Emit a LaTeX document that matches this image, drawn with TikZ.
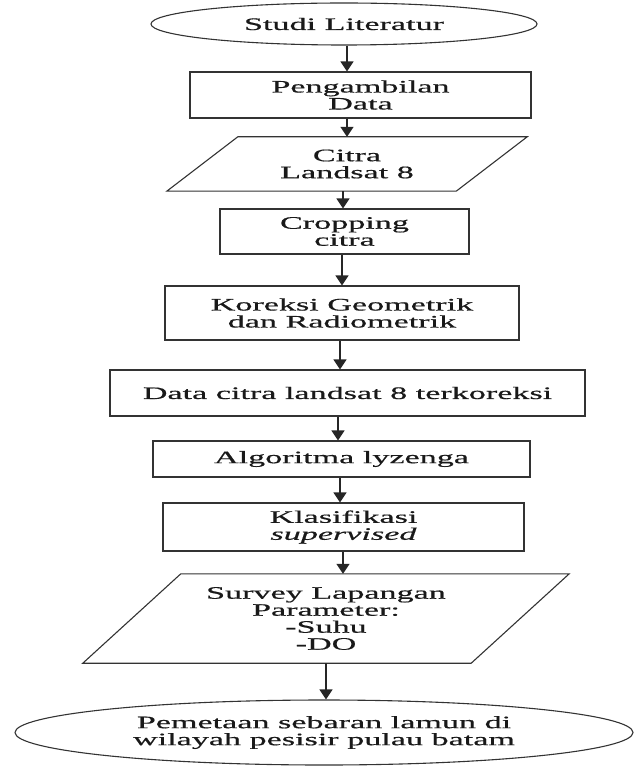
\documentclass[tikz,border=0pt]{standalone}
\usepackage{fontspec}
\setmainfont{Liberation Serif}[FakeStretch=1.95,FakeBold=0.6]
\usetikzlibrary{shapes.geometric,arrows.meta,calc}
\newcommand\flowfont{\fontsize{17.5}{17}\selectfont}
\begin{document}
\begin{tikzpicture}[x=1pt,y=-1pt,
  outl/.style={draw=black!80, line width=1.1pt},
  box/.style={outl, rectangle, inner sep=0pt, align=center, font=\flowfont, text=black!90},
  oval/.style={outl, ellipse, inner sep=0pt, align=center, font=\flowfont, text=black!90},
  para/.style={rectangle, inner sep=0pt, align=center, font=\flowfont, text=black!90},
  arr/.style={draw=black!85, line width=1.2pt, -{Triangle[width=13pt,length=10pt]}}]
\useasboundingbox (0,0) rectangle (640,767);

\node[oval, minimum width=386pt, minimum height=42pt] (e1) at (344,24) {Studi Literatur};
\node[box, minimum width=341pt, minimum height=46pt] (b2) at (360.5,95) {Pengambilan\\Data};
\node[para, minimum width=289pt, minimum height=54pt] (p3) at (347,164) {Citra\\Landsat 8};
\draw[outl] ([xshift=35.5pt]p3.north west) -- ([xshift=35.5pt]p3.north east)
  -- ([xshift=-35.5pt]p3.south east) -- ([xshift=-35.5pt]p3.south west) -- cycle;
\node[box, minimum width=249pt, minimum height=45pt] (b4) at (344.5,231.5) {Cropping\\citra};
\node[box, minimum width=354pt, minimum height=54pt] (b5) at (342,313) {Koreksi Geometrik\\dan Radiometrik};
\node[box, minimum width=475pt, minimum height=46pt] (b6) at (347.5,393) {Data citra landsat 8 terkoreksi};
\node[box, minimum width=377pt, minimum height=36pt] (b7) at (341.5,459) {Algoritma lyzenga};
\node[box, minimum width=361pt, minimum height=48pt] (b8) at (343.5,527) {Klasifikasi\\\textit{supervised}};
\node[para, minimum width=388pt, minimum height=89pt] (p9) at (326,618.5) {Survey Lapangan\\Parameter:\\-Suhu\\-DO};
\draw[outl] ([xshift=49pt]p9.north west) -- ([xshift=49pt]p9.north east)
  -- ([xshift=-49pt]p9.south east) -- ([xshift=-49pt]p9.south west) -- cycle;
\node[oval, minimum width=618pt, minimum height=65pt] (e10) at (324,732.5) {Pemetaan sebaran lamun di\\wilayah pesisir pulau batam};

\coordinate (x1) at (347,0);
\coordinate (x3) at (343,0);
\coordinate (x4) at (342,0);
\coordinate (x5) at (340,0);
\coordinate (x6) at (338,0);
\coordinate (x9) at (326,0);

\draw[arr] (e1.south -| x1) -- (b2.north -| x1);
\draw[arr] (b2.south -| x1) -- (p3.north -| x1);
\draw[arr] (p3.south -| x3) -- (b4.north -| x3);
\draw[arr] (b4.south -| x4) -- (b5.north -| x4);
\draw[arr] (b5.south -| x5) -- (b6.north -| x5);
\draw[arr] (b6.south -| x6) -- (b7.north -| x6);
\draw[arr] (b7.south -| x5) -- (b8.north -| x5);
\draw[arr] (b8.south -| x3) -- (p9.north -| x3);
\draw[arr] (p9.south -| x9) -- (e10.north -| x9);
\end{tikzpicture}
\end{document}
